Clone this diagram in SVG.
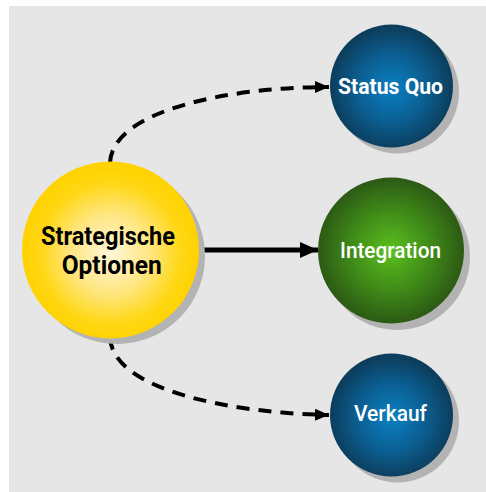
<svg xmlns="http://www.w3.org/2000/svg" width="486" height="492" viewBox="0 0 486 492">
<defs>
<radialGradient id="gBlue" cx="50%" cy="52%" r="50%">
<stop offset="0" stop-color="#0a80c2"/>
<stop offset="0.55" stop-color="#0b5f92"/>
<stop offset="1" stop-color="#0c3d5c"/>
</radialGradient>
<radialGradient id="gGreen" cx="50%" cy="50%" r="50%">
<stop offset="0" stop-color="#5cc01e"/>
<stop offset="0.55" stop-color="#3f8a18"/>
<stop offset="1" stop-color="#2c5a14"/>
</radialGradient>
<radialGradient id="gYellow" cx="50%" cy="52%" r="50%">
<stop offset="0" stop-color="#fff7da"/>
<stop offset="0.45" stop-color="#ffe680"/>
<stop offset="0.8" stop-color="#ffd714"/>
<stop offset="1" stop-color="#ffd200"/>
</radialGradient>
<marker id="ahBig" markerWidth="18" markerHeight="16" refX="18" refY="8" orient="auto" markerUnits="userSpaceOnUse">
<path d="M0,0 L18,8 L0,16 Z" fill="#000"/>
</marker>
<marker id="ahSmall" markerWidth="14" markerHeight="12" refX="14" refY="6" orient="auto" markerUnits="userSpaceOnUse">
<path d="M0,0 L14,6 L0,12 Z" fill="#000"/>
</marker>
</defs>
<style>
.shadow{fill:#b3b3b3}
.lbl{font-family:Roboto,"Liberation Sans",Arial,sans-serif;text-anchor:middle}
.w{fill:#fff}
.k{fill:#000;font-weight:bold}
.m{font-weight:500}
.conn{fill:none;stroke:#000}
</style>
<rect x="0" y="0" width="486" height="492" fill="#fff"/>
<rect x="9" y="6" width="477" height="486" fill="#e6e6e6"/>

<g id="connectors">
<path class="conn" d="M110,163 C112,110 230,87 329,87" stroke-width="4" stroke-dasharray="13,9" marker-end="url(#ahSmall)"/>
<path class="conn" d="M110,337 C112,390 230,413 329,415" stroke-width="4" stroke-dasharray="13,9" marker-end="url(#ahSmall)"/>
<path class="conn" d="M199,250 L318,250" stroke-width="5" marker-end="url(#ahBig)"/>
</g>

<g id="node-strategische">
<circle class="shadow" cx="117" cy="256" r="88"/>
<circle cx="110.5" cy="250" r="88.5" fill="url(#gYellow)"/>
<text class="lbl k" x="108" y="244.5" font-size="25.5" textLength="134" lengthAdjust="spacingAndGlyphs">Strategische</text>
<text class="lbl k" x="111.7" y="273.5" font-size="25.5" textLength="100" lengthAdjust="spacingAndGlyphs">Optionen</text>
</g>

<g id="node-status-quo">
<circle class="shadow" cx="397.5" cy="92" r="61.5"/>
<circle cx="391.5" cy="86" r="61.5" fill="url(#gBlue)"/>
<text class="lbl w" x="390.5" y="94" font-size="22.5" font-weight="bold" textLength="105" lengthAdjust="spacingAndGlyphs">Status Quo</text>
</g>

<g id="node-integration">
<circle class="shadow" cx="397" cy="257" r="73"/>
<circle cx="391" cy="250.5" r="73" fill="url(#gGreen)"/>
<text class="lbl w m" x="390.5" y="257.5" font-size="22" textLength="101" lengthAdjust="spacingAndGlyphs">Integration</text>
</g>

<g id="node-verkauf">
<circle class="shadow" cx="397.5" cy="421" r="61.5"/>
<circle cx="391.5" cy="415" r="61.5" fill="url(#gBlue)"/>
<text class="lbl w m" x="390.5" y="421" font-size="21.5" textLength="73" lengthAdjust="spacingAndGlyphs">Verkauf</text>
</g>
</svg>
